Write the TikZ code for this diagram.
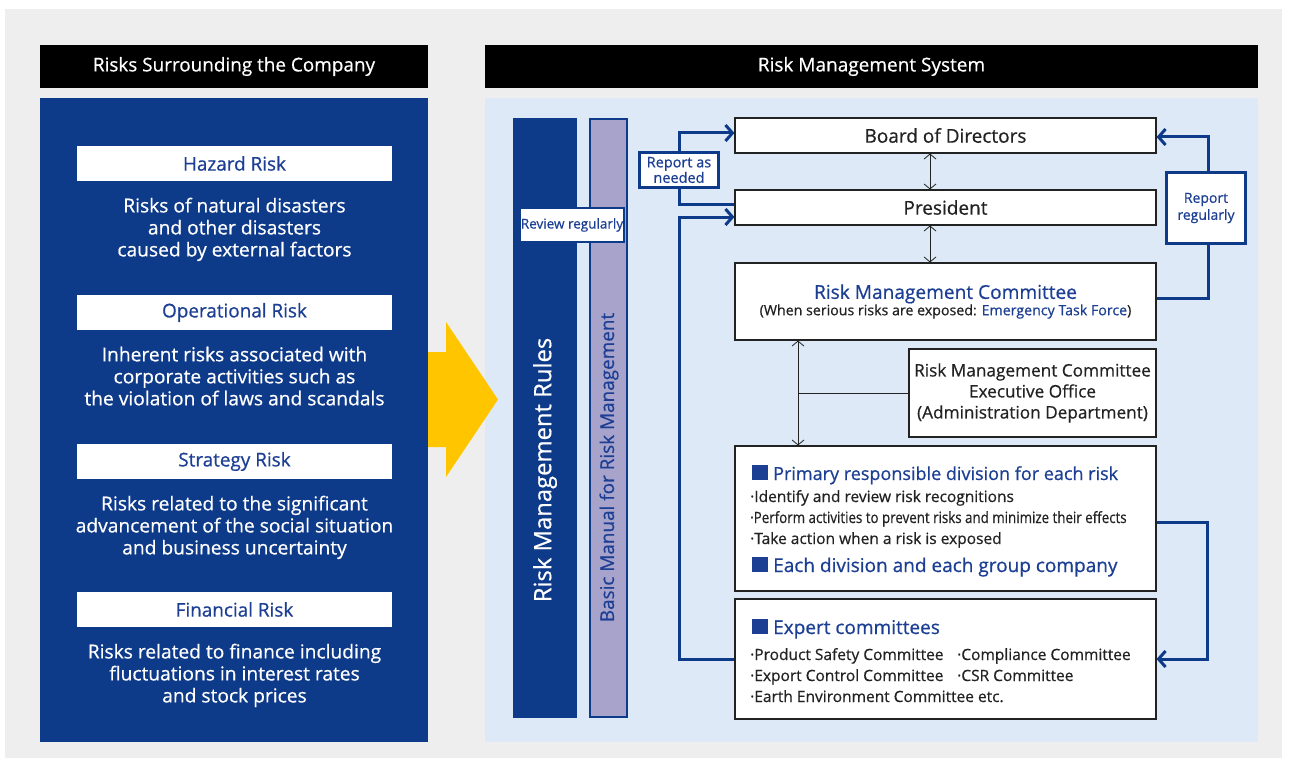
\documentclass[tikz,border=0pt]{standalone}
\usepackage{fontspec}
\setmainfont{Open Sans}[FakeBold=0.6]
\usepackage{tikz}
\usetikzlibrary{arrows.meta, positioning}
\definecolor{RiskNavy}  {HTML}{0E3A8A}
\definecolor{TextBlue}  {HTML}{1C3F94}
\definecolor{PaleBlue}  {HTML}{DDE9F7}
\definecolor{PaleGray}  {HTML}{EEEEEE}
\definecolor{Lavender}  {HTML}{A7A3CB}
\definecolor{ArrowGold} {HTML}{FFC600}
\definecolor{InkGray}   {HTML}{222222}
\newcommand{\fsz}[2]{\fontsize{#1}{#2}\selectfont}
\newcommand{\sqmark}{{\color{TextBlue}\rule{16pt}{15pt}}\hspace{5pt}}

\begin{document}
\begin{tikzpicture}[
  x=1pt, y=-1pt,
  header/.style={fill=black, text=white, minimum width=388, minimum height=43,
    inner sep=0pt, font=\fsz{18.9}{22}},
  riskhead/.style={fill=white, text=TextBlue, minimum width=315, minimum height=35,
    inner sep=0pt, font=\fsz{18.9}{22}},
  riskdesc/.style={text=white, align=center, font=\fsz{19.2}{22}},
  box/.style={draw=InkGray, line width=1.1pt, fill=white, text=InkGray,
    minimum width=421, inner sep=0pt, align=center},
  reportbox/.style={draw=RiskNavy, line width=2.5pt, fill=white, text=TextBlue,
    inner sep=0pt, align=center},
  loop/.style={RiskNavy, line width=3pt, -{Straight Barb[length=7pt, width=16pt]}},
  link/.style={InkGray, line width=0.8pt, {Straight Barb[length=5pt, width=12pt]}-{Straight Barb[length=5pt, width=12pt]}},
  item/.style={anchor=base west, inner sep=0pt, text=InkGray, font=\fsz{15.5}{17}},
  itemhead/.style={anchor=base west, inner sep=0pt, text=TextBlue, font=\fsz{19}{22}},
]
\useasboundingbox (0,0) rectangle (1290,765);

% Background
\fill[white] (0,0) rectangle (1290,765);
\fill[PaleGray] (5,9) rectangle (1282,758);

% Left panel: risks
\node[header] (lefthead) at (234,66.5) {Risks Surrounding the Company};
\fill[RiskNavy] (40,98) rectangle (428,742);
\foreach \i/\y/\ttl/\dsc in {
  1/163.5/{Hazard Risk}/{Risks of natural disasters\\and other disasters\\caused by external factors},
  2/312.5/{Operational Risk}/{Inherent risks associated with\\corporate activities such as\\the violation of laws and scandals},
  3/461.5/{Strategy Risk}/{Risks related to the significant\\advancement of the social situation\\and business uncertainty},
  4/609.5/{Financial Risk}/{Risks related to finance including\\fluctuations in interest rates\\and stock prices}} {
  \node[riskhead] (risk\i) at (234.5,\y) {\ttl};
  \node[riskdesc, below=13pt of risk\i] (desc\i) {\dsc};
}

% Right panel: system
\node[header, minimum width=773, font=\fsz{19}{22}] (righthead) at (871.5,66.5) {Risk Management System};
\fill[PaleBlue] (485,98) rectangle (1258,742);

% Transfer arrow
\fill[ArrowGold] (428,352) -- (446,352) -- (446,322) -- (498,399.5)
  -- (446,477) -- (446,447) -- (428,447) -- cycle;

% Rules and manual bars
\node[fill=RiskNavy, minimum width=64, minimum height=600, inner sep=0pt] (rulesbar) at (545,418) {};
\node[fill=Lavender, draw=RiskNavy, line width=2.5pt, minimum width=37, minimum height=598,
  inner sep=0pt] (manualbar) at (608.5,418) {};
\node[rotate=90, text=white, font=\fsz{23.8}{26}] (rules) at (545,470) {Risk Management Rules};
\node[rotate=90, text=TextBlue, font=\fsz{18.9}{20}] (manual) at (609,467.5) {Basic Manual for Risk Management};
\node[reportbox, minimum width=104, minimum height=34, font=\fsz{13.5}{16}] (review) at (572,225) {Review regularly};

% Organisation boxes
\node[box, minimum height=35, font=\fsz{19}{22}] (board) at (945.5,135.5) {Board of Directors};
\node[box, minimum height=35, font=\fsz{19}{22}] (president) at (945.5,207.5) {President};
\node[box, minimum height=77] (rmc) at (945.5,301.5)
  {{\fsz{19.1}{24}\color{TextBlue}Risk Management Committee}\\[0pt]
   {\fsz{14.2}{16}(When serious risks are exposed: \textcolor{TextBlue}{Emergency Task Force})}};
\node[box, minimum width=247, minimum height=88, font=\fsz{17.2}{21}] (execoff) at (1032.5,393)
  {Risk Management Committee\\Executive Office\\(Administration Department)};
\node[box, minimum height=145] (primary) at (945.5,518.5) {};
\node[box, minimum height=120] (expert) at (945.5,659) {};

% Box contents
\node[itemhead, font=\fsz{18}{22}] (primhead) at (752,480) {\sqmark Primary responsible division for each risk};
\node[item] (prim1) at (750,502) {·Identify and review risk recognitions};
\node[item] (prim2) at (750,523) {\scalebox{0.86}[1]{·Perform activities to prevent risks and minimize their effects}};
\node[item] (prim3) at (750,544) {·Take action when a risk is exposed};
\node[itemhead] (eachhead) at (752,572) {\sqmark Each division and each group company};
\node[itemhead] (exphead) at (752,634) {\sqmark Expert committees};
\node[item] (exp1) at (750,660) {·Product Safety Committee};
\node[item] (exp2) at (957,660) {·Compliance Committee};
\node[item] (exp3) at (750,681) {·Export Control Committee};
\node[item] (exp4) at (957,681) {·CSR Committee};
\node[item] (exp5) at (750,702) {·Earth Environment Committee etc.};

% Thin links
\coordinate (leftx) at (798,0);
\draw[link] ([xshift=-15.5pt]board.south) -- ([xshift=-15.5pt]president.north);
\draw[link] ([xshift=-15.5pt]president.south) -- ([xshift=-15.5pt]rmc.north);
\draw[link] (rmc.south -| leftx) -- (primary.north -| leftx);
\draw[InkGray, line width=0.8pt] (execoff.west) -- (execoff.west -| leftx);

% Reporting loops
\draw[loop] ([yshift=3.5pt]president.west) -- ++(-55,0) |- ([yshift=2.5pt]board.west);
\draw[loop] (expert.west) -- ++(-55,0) |- ([yshift=-9.5pt]president.west);
\draw[loop] ([yshift=3.5pt]rmc.east) -- ++(52,0) |- ([yshift=-1.5pt]board.east);
\draw[loop] ([yshift=-3.5pt]primary.east) -- ++(51,0) |- (expert.east);
\node[reportbox, minimum width=79, minimum height=35, font=\fsz{14.5}{13.5}] (asneeded) at (679,170) {Report as\\needed};
\node[reportbox, minimum width=79, minimum height=71, font=\fsz{14}{17}] (regularly) at (1206,208) {Report\\regularly};

\end{tikzpicture}
\end{document}
